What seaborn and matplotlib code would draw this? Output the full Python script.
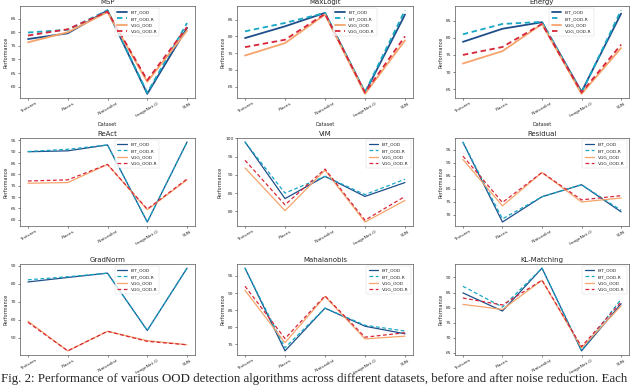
import matplotlib
matplotlib.use("Agg")
import matplotlib.pyplot as plt
import numpy as np
import pandas as pd
import seaborn as sns

datasets = ["Textures", "Places", "iNaturalist", "ImageNet-O", "SUN"]
models = ["BiT_OOD", "BiT_OOD-R", "VGG_OOD", "VGG_OOD-R"]

# performance per method, one list per model (order follows datasets)
msp = {
    "BiT_OOD":   [77.5, 79.6, 88.0, 57.4, 81.6],
    "BiT_OOD-R": [79.9, 80.9, 88.1, 57.8, 83.4],
    "VGG_OOD":   [76.3, 80.0, 87.4, 61.8, 80.6],
    "VGG_OOD-R": [78.8, 81.1, 87.6, 62.4, 81.9],
}
maxlogit = {
    "BiT_OOD":   [79.5, 83.0, 87.0, 63.2, 86.5],
    "BiT_OOD-R": [81.5, 84.0, 87.0, 63.4, 87.8],
    "VGG_OOD":   [74.3, 78.0, 86.5, 62.9, 78.8],
    "VGG_OOD-R": [76.8, 79.0, 86.7, 63.3, 80.0],
}
energy = {
    "BiT_OOD":   [78.8, 82.6, 84.5, 64.3, 87.0],
    "BiT_OOD-R": [81.0, 84.0, 84.6, 64.0, 88.0],
    "VGG_OOD":   [72.5, 76.1, 84.0, 63.7, 77.0],
    "VGG_OOD-R": [75.0, 77.3, 84.0, 64.1, 78.0],
}
react = {
    "BiT_OOD":   [90.0, 90.4, 93.0, 59.0, 94.3],
    "BiT_OOD-R": [90.1, 91.1, 93.0, 59.0, 94.3],
    "VGG_OOD":   [76.1, 76.4, 84.4, 64.4, 77.6],
    "VGG_OOD-R": [77.1, 77.6, 84.4, 64.7, 78.0],
}
vim = {
    "BiT_OOD":   [99.0, 83.5, 89.6, 84.1, 87.9],
    "BiT_OOD-R": [99.0, 85.0, 89.6, 84.6, 88.8],
    "VGG_OOD":   [91.9, 80.2, 91.3, 77.1, 83.0],
    "VGG_OOD-R": [94.0, 81.8, 91.6, 77.6, 84.1],
}
residual = {
    "BiT_OOD":   [97.9, 67.3, 77.0, 81.6, 71.2],
    "BiT_OOD-R": [98.0, 68.5, 77.0, 81.6, 71.8],
    "VGG_OOD":   [91.3, 73.5, 86.3, 75.0, 76.5],
    "VGG_OOD-R": [92.6, 74.8, 86.3, 75.8, 77.4],
}
gradnorm = {
    "BiT_OOD":   [81.0, 83.5, 85.9, 54.0, 88.7],
    "BiT_OOD-R": [82.2, 83.9, 85.9, 54.0, 88.7],
    "VGG_OOD":   [59.1, 42.6, 53.5, 48.3, 46.0],
    "VGG_OOD-R": [58.5, 42.6, 53.5, 47.9, 46.0],
}
mahalanobis = {
    "BiT_OOD":   [97.3, 73.1, 85.6, 80.3, 78.1],
    "BiT_OOD-R": [97.3, 74.0, 85.6, 80.6, 78.9],
    "VGG_OOD":   [90.8, 75.5, 89.0, 76.6, 77.4],
    "VGG_OOD-R": [92.0, 76.7, 89.2, 77.1, 78.4],
}
kl_matching = {
    "BiT_OOD":   [84.9, 78.9, 93.1, 65.7, 81.3],
    "BiT_OOD-R": [87.1, 80.2, 93.1, 65.9, 82.8],
    "VGG_OOD":   [81.1, 79.4, 89.1, 66.7, 80.6],
    "VGG_OOD-R": [83.2, 80.9, 89.1, 67.1, 81.9],
}

methods = ["MSP", "MaxLogit", "Energy", "ReAct", "VIM", "Residual",
           "GradNorm", "Mahalanobis", "KL-Matching"]
results = [msp, maxlogit, energy, react, vim, residual,
           gradnorm, mahalanobis, kl_matching]

palette = {"BiT_OOD": "#1f4f8a", "BiT_OOD-R": "#17a8c4",
           "VGG_OOD": "#f6a46c", "VGG_OOD-R": "#d7263a"}
dashes = {"BiT_OOD": "", "BiT_OOD-R": (3, 2), "VGG_OOD": "", "VGG_OOD-R": (3, 2)}

sns.set_style("ticks")
plt.rcParams["font.family"] = ["DejaVu Sans"]

fig = plt.figure(figsize=(6.4, 3.87), dpi=100)

# axes boxes in pixels: (left, top, right, bottom)
lefts = [20, 237, 455]
rights = [195, 413, 629]
tops = [6, 138, 264]
bottoms = [98, 226, 355]
W, H = 640.0, 387.0

for i, (name, res) in enumerate(zip(methods, results)):
    r, c = divmod(i, 3)
    ax = fig.add_axes([lefts[c] / W, 1 - bottoms[r] / H,
                       (rights[c] - lefts[c]) / W, (bottoms[r] - tops[r]) / H])
    rows = []
    for m in models:
        for d, v in zip(datasets, res[m]):
            rows.append({"Dataset": d, "Performance": v, "Model": m})
    df = pd.DataFrame(rows)
    lw = 1.3 if r == 0 else 0.9
    sns.lineplot(data=df, x="Dataset", y="Performance", hue="Model",
                 style="Model", palette=palette, dashes=dashes,
                 linewidth=lw, sort=False, ax=ax)
    ax.set_title(name, fontsize=5, pad=1.5)
    ax.tick_params(axis="both", labelsize=3.2, length=1.5, width=0.4, pad=1)
    plt.setp(ax.get_xticklabels(), rotation=30)
    ax.set_ylabel("Performance", fontsize=3.5, labelpad=2)
    if r == 0:
        ax.set_xlabel("Dataset", fontsize=3.5, labelpad=2.5)
    else:
        ax.set_xlabel("")
    for s in ax.spines.values():
        s.set_linewidth(0.5)
        s.set_color("#555555")
    if name in ["MSP", "MaxLogit", "Energy", "ReAct", "GradNorm"]:
        ax.legend(loc="upper center", bbox_to_anchor=(0.67, 1.0),
                  fontsize=3.2, handlelength=2.2, frameon=True, borderpad=0.5)
    else:
        ax.legend(loc="upper right", fontsize=3.2, handlelength=2.2,
                  frameon=True, borderpad=0.5)
    ax.get_legend().get_frame().set_linewidth(0.3)

fig.text(0.002, 0.006, "Fig. 2: Performance of various OOD detection algorithms across "
         "different datasets, before and after noise reduction. Each",
         fontsize=9.3, family="Liberation Serif", ha="left", va="bottom")

fig.savefig("out.png", dpi=100)
